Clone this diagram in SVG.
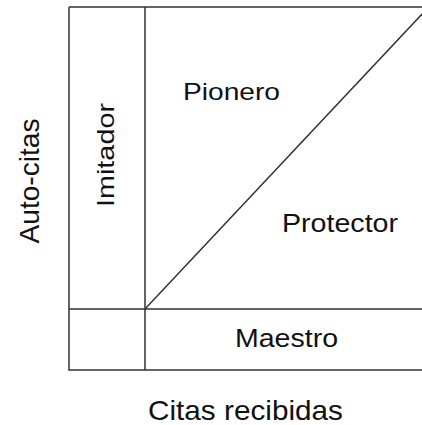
<svg xmlns="http://www.w3.org/2000/svg" width="422" height="425" viewBox="0 0 422 425">
<style>
.lbl{font-family:"Liberation Sans",Arial,sans-serif;fill:#111;}
.ln{stroke:#333;stroke-width:1.5;fill:none;}
</style>
<rect width="422" height="425" fill="#fff"/>
<g id="connectors">
<path class="ln" d="M69,7 H423 M69,7 V370 H423 M145,7 V370 M69,309 H423"/>
<path class="ln" d="M145,309 L423,13" stroke-width="1.2"/>
</g>
<g id="pionero"><text class="lbl" x="183" y="100" font-size="24" textLength="97" lengthAdjust="spacingAndGlyphs">Pionero</text></g>
<g id="imitador"><text class="lbl" transform="translate(114,155) rotate(-90)" text-anchor="middle" font-size="24" textLength="104" lengthAdjust="spacingAndGlyphs">Imitador</text></g>
<g id="protector"><text class="lbl" x="282" y="232" font-size="25" textLength="116" lengthAdjust="spacingAndGlyphs">Protector</text></g>
<g id="maestro"><text class="lbl" x="235" y="347" font-size="25" textLength="103" lengthAdjust="spacingAndGlyphs">Maestro</text></g>
<g id="xaxis"><text class="lbl" x="148" y="420" font-size="28" textLength="195" lengthAdjust="spacingAndGlyphs">Citas recibidas</text></g>
<g id="yaxis"><text class="lbl" transform="translate(39,181) rotate(-90)" text-anchor="middle" font-size="28" textLength="125" lengthAdjust="spacingAndGlyphs">Auto-citas</text></g>
</svg>
